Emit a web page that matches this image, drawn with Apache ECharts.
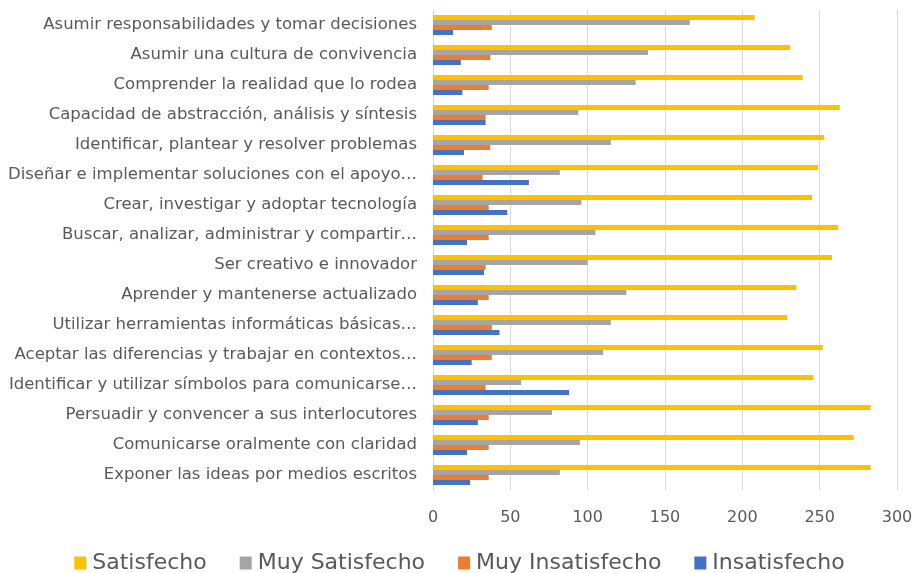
<!DOCTYPE html>
<html><head><meta charset="utf-8">
<script src="https://cdn.jsdelivr.net/npm/echarts@6/dist/echarts.min.js"></script>
<style>html,body{margin:0;padding:0;background:#fff}#c{width:919px;height:573px}</style>
</head><body><div id="c"></div>
<script>
const categories = [
  "Asumir responsabilidades y tomar decisiones",
  "Asumir una cultura de convivencia",
  "Comprender la realidad que lo rodea",
  "Capacidad de abstracción, análisis y síntesis",
  "Identificar, plantear y resolver problemas",
  "Diseñar e implementar soluciones con el apoyo…",
  "Crear, investigar y adoptar tecnología",
  "Buscar, analizar, administrar y compartir…",
  "Ser creativo e innovador",
  "Aprender y mantenerse actualizado",
  "Utilizar herramientas informáticas básicas…",
  "Aceptar las diferencias y trabajar en contextos…",
  "Identificar y utilizar símbolos para comunicarse…",
  "Persuadir y convencer a sus interlocutores",
  "Comunicarse oralmente con claridad",
  "Exponer las ideas por medios escritos"
];
const satisfecho      = [208, 231, 239, 263, 253, 249, 245, 262, 258, 235, 229, 252, 246, 283, 272, 283];
const muySatisfecho   = [166, 139, 131, 94, 115, 82, 96, 105, 100, 125, 115, 110, 57, 77, 95, 82];
const muyInsatisfecho = [38, 37, 36, 34, 37, 32, 36, 36, 34, 36, 38, 38, 34, 36, 36, 36];
const insatisfecho    = [13, 18, 19, 34, 20, 62, 48, 22, 33, 29, 43, 25, 88, 29, 22, 24];
const seriesNames = ["Satisfecho", "Muy Satisfecho", "Muy Insatisfecho", "Insatisfecho"];
const xTicks = { min: 0, max: 300, interval: 50 };

const colors = ["#FFC000", "#A5A5A5", "#ED7D31", "#4472C4"];
const font = "DejaVu Sans";
const chart = echarts.init(document.getElementById('c'));
const dataSets = [satisfecho, muySatisfecho, muyInsatisfecho, insatisfecho];
chart.setOption({
  animation: false,
  color: colors,
  grid: { left: 433, right: 22, top: 10, bottom: 83, containLabel: false },
  legend: {
    data: seriesNames, top: 547, left: 'center',
    icon: 'rect', itemWidth: 12, itemHeight: 13, itemGap: 33,
    textStyle: { fontFamily: font, fontSize: 22, color: '#595959', padding: [0,0,0,1] }
  },
  xAxis: {
    type: 'value', min: xTicks.min, max: xTicks.max, interval: xTicks.interval,
    axisLine: { show: false }, axisTick: { show: false },
    splitLine: { lineStyle: { color: '#d9d9d9', width: 1 } },
    axisLabel: { fontFamily: font, fontSize: 16, color: '#595959', margin: 20 }
  },
  yAxis: {
    type: 'category', data: categories, inverse: true,
    axisLine: { show: true, lineStyle: { color: '#d9d9d9' } }, axisTick: { show: false },
    axisLabel: { fontFamily: font, fontSize: 16.5, color: '#595959', margin: 16 }
  },
  series: dataSets.map((d, i) => ({
    name: seriesNames[i], type: 'bar', data: d,
    barGap: '0%', barCategoryGap: '33%'
  }))
});
</script></body></html>
